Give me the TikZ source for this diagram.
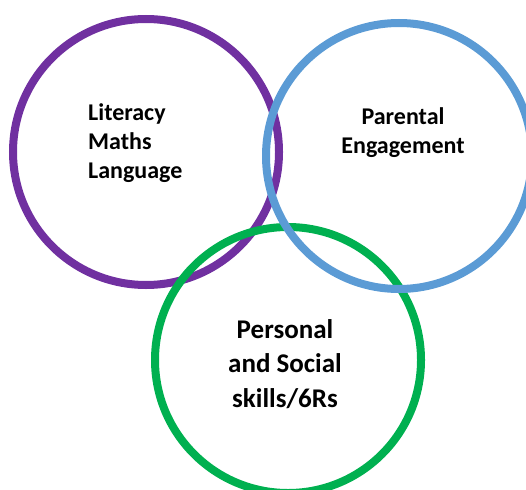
\documentclass[tikz,border=0pt]{standalone}
\usepackage{fontspec}
\setmainfont{Carlito}
\usepackage{tikz}

\definecolor{ringpurple}{HTML}{7030A0}
\definecolor{ringblue}{HTML}{5B9BD5}
\definecolor{ringgreen}{HTML}{00B050}

\tikzset{
    ring/.style={line width=8pt},
    ringtext/.style={font=\bfseries\fontsize{24}{29}\selectfont, inner sep=0pt}
}

\begin{document}
\begin{tikzpicture}[x=1pt,y=-1pt]
        \useasboundingbox (0,0) rectangle (526,489);
        \clip (0,0) rectangle (526,489);
        \draw [ring,color=ringpurple] (146,152) circle (133);
        \draw [ring,color=ringgreen] (288,360) circle (133);
        \draw [ring,color=ringblue] (399,156) circle (133);
        \node [ringtext,align=left,anchor=north west] (lit) at (88,103) {Literacy\\Maths\\Language};
        \node [ringtext,align=center] (par) at (403,133) {Parental\\Engagement};
        \node [ringtext,align=center,font=\bfseries\fontsize{27}{34.5}\selectfont] (pers) at (285,364) {Personal\\and Social\\skills/6Rs};
    \end{tikzpicture}
\end{document}
